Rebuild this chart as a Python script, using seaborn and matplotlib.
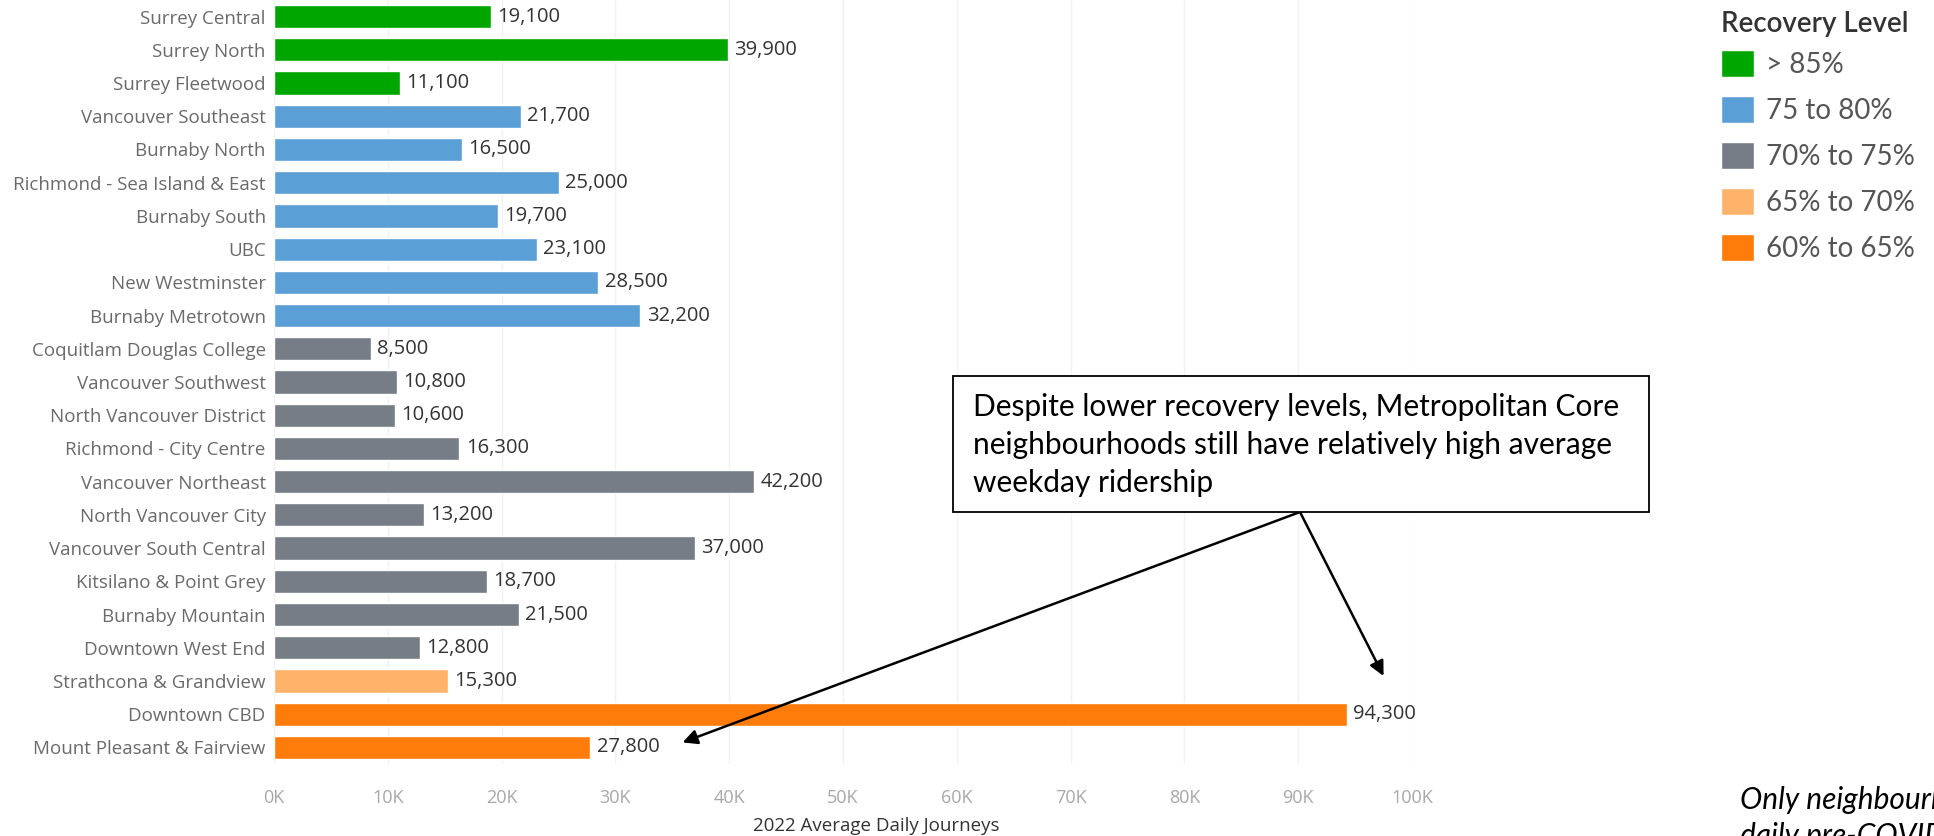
import matplotlib
matplotlib.use("Agg")
import matplotlib.pyplot as plt
from matplotlib import font_manager
from matplotlib.patches import Rectangle
import seaborn as sns
import pandas as pd

neighbourhoods = [
    "Surrey Central", "Surrey North", "Surrey Fleetwood", "Vancouver Southeast",
    "Burnaby North", "Richmond - Sea Island & East", "Burnaby South", "UBC",
    "New Westminster", "Burnaby Metrotown", "Coquitlam Douglas College",
    "Vancouver Southwest", "North Vancouver District", "Richmond - City Centre",
    "Vancouver Northeast", "North Vancouver City", "Vancouver South Central",
    "Kitsilano & Point Grey", "Burnaby Mountain", "Downtown West End",
    "Strathcona & Grandview", "Downtown CBD", "Mount Pleasant & Fairview",
]
journeys = [19100, 39900, 11100, 21700, 16500, 25000, 19700, 23100, 28500, 32200,
            8500, 10800, 10600, 16300, 42200, 13200, 37000, 18700, 21500, 12800,
            15300, 94300, 27800]
levels = ["> 85%"] * 3 + ["75 to 80%"] * 7 + ["70% to 75%"] * 10 + ["65% to 70%"] + ["60% to 65%"] * 2
level_order = ["> 85%", "75 to 80%", "70% to 75%", "65% to 70%", "60% to 65%"]
level_colors = ["#00A600", "#5A9FD6", "#767D87", "#FFB26A", "#FF7B0A"]
x_ticks = [0, 10000, 20000, 30000, 40000, 50000, 60000, 70000, 80000, 90000, 100000]
x_tick_labels = ["0K", "10K", "20K", "30K", "40K", "50K", "60K", "70K", "80K", "90K", "100K"]

available = {f.name for f in font_manager.fontManager.ttflist}
def pick(names):
    for n in names:
        if n in available:
            return n
    return "DejaVu Sans"

body = pick(["Open Sans", "Lato", "DejaVu Sans"])
legend_font = pick(["Lato", "Open Sans", "DejaVu Sans"])
callout = pick(["Lato", "Open Sans", "DejaVu Sans"])

sns.set_theme(style="white")
plt.rcParams["font.family"] = [body, "DejaVu Sans"]

df = pd.DataFrame({"name": neighbourhoods, "journeys": journeys, "level": levels})

W, H = 1934, 836
fig = plt.figure(figsize=(W / 100, H / 100), dpi=100)
fig.patch.set_facecolor("white")
ax = fig.add_axes([274 / W, 72 / H, 1138 / W, 764 / H])

sns.barplot(data=df, x="journeys", y="name", hue="level", hue_order=level_order,
            palette=level_colors, dodge=False, width=0.7, saturation=1, ax=ax,
            order=neighbourhoods)

ax.set_xlim(0, 100000)
ax.set_ylim(len(neighbourhoods) - 0.5, -0.5)
ax.set_xticks(x_ticks)
ax.set_xticklabels(x_tick_labels, color="#A8A8A8", fontsize=13)
ax.tick_params(axis="y", labelsize=13.5, labelcolor="#6A6A6A", length=0, pad=6)
ax.tick_params(axis="x", length=0, pad=18)
ax.set_ylabel("")
ax.set_xlabel("2022 Average Daily Journeys", fontsize=13.5, color="#333333")
ax.xaxis.set_label_coords((876 - 274) / 1138, -(826 - 764) / 764)
ax.xaxis.label.set_va("center")
for s in ax.spines.values():
    s.set_visible(False)
ax.grid(axis="x", color="#F2F2F2", lw=1)
ax.set_axisbelow(True)

for i, v in enumerate(journeys):
    ax.text(v + 550, i, f"{v:,}", va="center", ha="left", fontsize=14.5, color="#333333")

handles, labels = ax.get_legend_handles_labels()
ax.get_legend().remove()
fig.text(1721 / W, 1 - 24 / H, "Recovery Level", fontsize=20, family=legend_font,
         fontweight="semibold", color="#333333", ha="left", va="center")
leg = fig.legend(handles, labels, loc="upper left", bbox_to_anchor=(1721 / W, 1 - 50 / H),
                 frameon=False, borderpad=0, borderaxespad=0,
                 prop={"family": legend_font, "size": 20},
                 handlelength=1.19, handleheight=1.12, handletextpad=0.43, labelspacing=0.65)
for t in leg.get_texts():
    t.set_color("#555555")

# Callout box
fig.add_artist(Rectangle((953 / W, 1 - 512 / H), 696 / W, 136 / H, transform=fig.transFigure,
                         facecolor="white", edgecolor="black", lw=1.3, zorder=5))
callout_lines = ["Despite lower recovery levels, Metropolitan Core",
                 "neighbourhoods still have relatively high average",
                 "weekday ridership"]
for k, line in enumerate(callout_lines):
    fig.text(973 / W, 1 - (407 + 38 * k) / H, line, fontsize=21.5, family=callout,
             color="black", va="center", ha="left", zorder=6)

for target in [(35900, 21.85), (97500, 19.85)]:
    ax.annotate("", xy=target, xycoords="data", xytext=(1300, H - 512),
                textcoords="figure pixels", annotation_clip=False,
                arrowprops=dict(arrowstyle="-|>", color="black", lw=1.8, mutation_scale=22,
                                shrinkA=0, shrinkB=0))

foot = ["Only neighbourhoods with more than 10,000 average",
        "daily pre-COVID journeys are shown"]
for k, line in enumerate(foot):
    fig.text(1740 / W, 1 - (800 + 36 * k) / H, line, fontsize=21.5, style="italic",
             family=callout, color="black", va="center", ha="left")

fig.savefig("out.png", dpi=100, facecolor="white")
